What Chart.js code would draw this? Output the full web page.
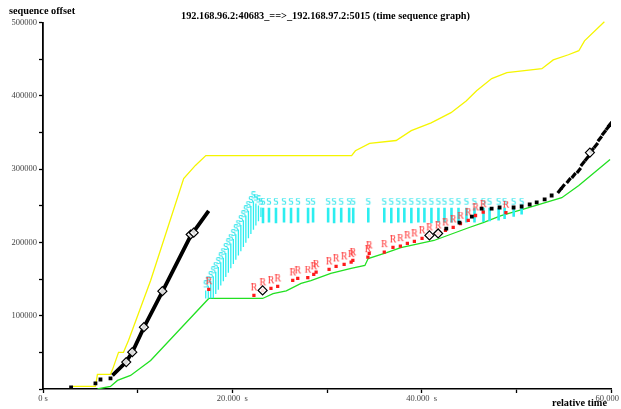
<!DOCTYPE html>
<html><head><meta charset="utf-8">
<script src="https://cdn.jsdelivr.net/npm/chart.js@4"></script>
<style>html,body{margin:0;padding:0;background:#fff;overflow:hidden}#wrap{position:relative;width:621px;height:409px}</style>
</head><body><div id="wrap"><canvas id="c" width="621" height="409"></canvas></div>
<script>
// ---- data (time in s, sequence offset in bytes) ----
const winT   = [3.1, 5.54, 5.75, 7.13, 7.35, 7.98, 8.5, 9.04, 11.37, 14.86, 16.1, 17.2, 32.6, 33.0, 34.5, 37.3, 38.9, 41.0, 43.1, 44.7, 45.8, 47.4, 49.0, 52.7, 53.9, 55.5, 56.6, 57.2, 59.3];
const winSeq = [3500, 3500, 20000, 20000, 26800, 50000, 50000, 66500, 148000, 287000, 305000, 318400, 318400, 325000, 335000, 339000, 352500, 363000, 377000, 393000, 407000, 423500, 431600, 437000, 449000, 456000, 461500, 475000, 501000];

const ackT   = [5.75, 7.13, 7.87, 9.25, 11.37, 17.51, 23.2, 24.3, 25.7, 27.26, 28.3, 30.4, 32.55, 34.0, 34.35, 36.3, 37.8, 41.3, 44.95, 46.5, 48.4, 51.3, 54.8, 56.6, 59.9];
const ackSeq = [0, 3500, 11700, 18500, 39000, 123500, 123500, 130000, 134000, 144000, 148000, 157600, 164500, 168500, 178000, 186000, 193000, 202600, 220000, 227000, 236500, 247500, 261000, 277500, 313000];

// sent segments (sparse start and slow phase)
const segT   = [2.97, 5.54, 6.07, 7.13, 42.6, 44.0, 45.3, 46.33, 47.39, 48.23, 49.71, 50.56, 51.41, 52.15, 52.99, 53.73];
const segSeq = [2200, 7600, 13000, 14500, 218800, 227000, 235100, 246000, 246000, 247600, 247600, 249000, 251700, 254500, 258600, 264000];
// sent segments (steep final phase)
const steepT   = [54.58, 54.90, 55.53, 56.06, 56.60, 57.02, 57.44, 57.97, 58.40, 58.82, 59.25, 59.67, 59.88];
const steepSeq = [270800, 276000, 284400, 291300, 298100, 307600, 314400, 325300, 332100, 341500, 349700, 356700, 360800];

const burstT   = [7.34, 8.72, 9.43, 10.66, 12.61, 15.6, 17.5];
const burstSeq = [18500, 36000, 50000, 84000, 133000, 209000, 243000];

// SACK blocks during recovery ramp
const sackDiagT  = [17.19, 17.46, 17.72, 17.99, 18.25, 18.52, 18.78, 19.05, 19.31, 19.58, 19.84, 20.11, 20.37, 20.64, 20.90, 21.17, 21.43, 21.70, 21.96, 22.23, 22.49, 22.76, 23.02];
const sackDiagLo = [123500, 123500, 123500, 123700, 129600, 135400, 141100, 147000, 152900, 158700, 164600, 170500, 176300, 182100, 187900, 193800, 199600, 205500, 211400, 217200, 223100, 228800, 234700];
const sackDiagHi = [134500, 140900, 147300, 153700, 160000, 166400, 172800, 179200, 185600, 192000, 198400, 204800, 211100, 217500, 223900, 230300, 236700, 243100, 249600, 256000, 253000, 250400, 247600];
// SACK blocks afterwards
const sackT  = [23.24, 23.87, 24.61, 25.46, 26.20, 26.94, 28.00, 28.53, 30.12, 30.75, 31.50, 32.34, 32.77, 34.36, 36.05, 36.79, 37.53, 38.17, 38.91, 39.65, 40.29, 41.03, 41.77, 42.41, 43.15, 43.89, 44.73, 45.58, 46.53, 47.17, 48.13, 48.76, 49.72, 50.56];
const sackLo = [226000, 227000, 226000, 227000, 226000, 227000, 226000, 227000, 227000, 226000, 227000, 227000, 226000, 227000, 227000, 226000, 227000, 227000, 226000, 227000, 227000, 226000, 227000, 227000, 227000, 226000, 227000, 227000, 228000, 229000, 230000, 232000, 235000, 238000];
const sackHi = [247400, 247400, 247400, 247400, 247400, 247400, 247400, 247400, 247400, 247400, 247400, 247400, 247400, 247400, 247400, 247400, 247400, 247400, 247400, 247400, 247400, 247400, 247400, 247400, 247400, 247400, 247400, 247400, 247400, 247400, 247400, 247400, 247400, 247400];

const rexmitT   = [17.51, 22.28, 23.20, 24.08, 24.79, 26.38, 26.91, 27.97, 28.60, 28.85, 30.22, 30.96, 31.81, 32.55, 32.73, 34.32, 34.46, 36.05, 36.97, 37.75, 38.49, 39.23, 40.04, 40.82, 41.74, 42.51, 43.33, 44.10, 44.92, 45.69, 46.50, 48.9];
const rexmitSeq = [136000, 127600, 134500, 137200, 139900, 148100, 150800, 151800, 156300, 159400, 163100, 167200, 169900, 173100, 175400, 179900, 184900, 186700, 193100, 194900, 198600, 201300, 205400, 209500, 212200, 216300, 220400, 225500, 229900, 236700, 241200, 240500];

const diamondT   = [8.79, 9.43, 10.66, 12.61, 15.6, 15.92, 23.2, 40.82, 41.74, 57.77];
const diamondSeq = [36700, 50300, 84400, 133500, 210800, 213300, 134500, 209500, 212200, 322500];

const xTickLabels = {0: '0 s', 20: '20.000  s', 40: '40.000  s', 60: '60.000  s'};
const yTickLabels = {100000: '100000', 200000: '200000', 300000: '300000', 400000: '400000', 500000: '500000'};

// ---- helpers ----
const pts = (xs, ys) => xs.map((x, i) => ({x: x, y: ys[i]}));
function vLines(ts, lo, hi) {
  const out = [];
  ts.forEach((t, i) => { out.push({x: t, y: lo[i]}, {x: t, y: hi[i]}, {x: t, y: null}); });
  return out;
}

function labelCanvas(ch, color, font, w, h, base) {
  const c = document.createElement('canvas');
  c.width = w; c.height = h;
  const g = c.getContext('2d');
  g.fillStyle = color; g.font = font; g.textAlign = 'center'; g.textBaseline = 'alphabetic';
  g.fillText(ch, w / 2, base);
  return c;
}
const sImg = labelCanvas('S', '#1fe3ea', '8.5px "DejaVu Sans"', 10, 20, 7);
const rImg = labelCanvas('R', '#ff3a3a', '10px "Liberation Serif"', 12, 24, 7);

const textPlugin = {
  id: 'texts',
  afterDraw(chart) {
    const ctx = chart.ctx;
    ctx.save();
    ctx.fillStyle = '#000';
    ctx.font = 'bold 10.3px "Liberation Serif"';
    ctx.textBaseline = 'alphabetic';
    ctx.textAlign = 'left';
    ctx.fillText('sequence offset', 9, 14);
    ctx.textAlign = 'center';
    ctx.fillText('192.168.96.2:40683_==>_192.168.97.2:5015 (time sequence graph)', 325.5, 19);
    ctx.textAlign = 'right';
    ctx.fillText('relative time', 607, 406);
    ctx.restore();
  }
};

const tickFont = {family: '"Liberation Serif"', size: 8.5};
const sackColor = '#2ceef0';

new Chart(document.getElementById('c'), {
  type: 'scatter',
  data: {
    datasets: [
      {label: 'diamonds', data: pts(diamondT, diamondSeq), pointStyle: 'rectRot', pointRadius: 4.5,
       borderColor: '#000', backgroundColor: 'rgba(255,255,255,0.85)', borderWidth: 1.2, showLine: false},
      {label: 'segments', data: pts(segT, segSeq), pointStyle: 'rect', pointRadius: 2.7,
       borderColor: '#000', backgroundColor: '#000', borderWidth: 0, showLine: false},
      {label: 'steep', data: pts(steepT, steepSeq), pointStyle: 'line', pointRadius: 3.2, rotation: -52,
       borderColor: '#000', borderWidth: 3.2, showLine: false},
      {label: 'burst', data: pts(burstT, burstSeq), showLine: true, borderColor: '#000', borderWidth: 3.8,
       pointRadius: 0, borderCapStyle: 'butt'},
      {label: 'R', data: pts(rexmitT, rexmitSeq), pointStyle: rImg, pointRadius: 3, showLine: false},
      {label: 'rexmit', data: pts(rexmitT, rexmitSeq), pointStyle: 'rect', pointRadius: 2.3,
       borderColor: '#ff1a1a', backgroundColor: '#ff1a1a', borderWidth: 0, showLine: false},
      {label: 'S', data: pts(sackDiagT.concat(sackT), sackDiagHi.concat(sackHi)), pointStyle: sImg, pointRadius: 3, showLine: false},
      {label: 'sackDiag', data: vLines(sackDiagT, sackDiagLo, sackDiagHi), showLine: true, spanGaps: false, borderColor: sackColor,
       borderWidth: 1.3, pointRadius: 0, borderCapStyle: 'butt'},
      {label: 'sack', data: vLines(sackT, sackLo, sackHi), showLine: true, spanGaps: false, borderColor: sackColor,
       borderWidth: 2.6, pointRadius: 0, borderCapStyle: 'butt'},
      {label: 'ack', data: pts(ackT, ackSeq), showLine: true, borderColor: '#22e022', borderWidth: 1.3, pointRadius: 0},
      {label: 'window', data: pts(winT, winSeq), showLine: true, borderColor: '#f5f500', borderWidth: 1.3, pointRadius: 0, clip: false}
    ]
  },
  options: {
    responsive: false, animation: false, devicePixelRatio: 1, events: [],
    layout: {padding: {top: 22.5, left: 0, right: 10, bottom: 0}},
    plugins: {legend: {display: false}, tooltip: {enabled: false}, title: {display: false}},
    scales: {
      x: {
        type: 'linear', min: 0, max: 60,
        afterFit: s => { s.height = 20; s.paddingLeft = 0; s.paddingRight = 0; },
        ticks: {stepSize: 10, autoSkip: false, maxRotation: 0, padding: 1, color: '#444', font: tickFont,
                callback: v => (xTickLabels[v] !== undefined ? xTickLabels[v] : '')},
        grid: {drawOnChartArea: false, drawTicks: true, tickLength: 4, tickColor: '#000', tickWidth: 1.3},
        border: {color: '#000', width: 1.6}
      },
      y: {
        type: 'linear', min: 0, max: 500000,
        afterFit: s => { s.width = 43; s.paddingTop = 0; s.paddingBottom = 0; },
        ticks: {stepSize: 50000, autoSkip: false, padding: 2, color: '#444', font: tickFont,
                callback: v => (yTickLabels[v] !== undefined ? yTickLabels[v] : '')},
        grid: {drawOnChartArea: false, drawTicks: true, tickLength: 4, tickColor: '#000', tickWidth: 1.3},
        border: {color: '#000', width: 1.8}
      }
    }
  },
  plugins: [textPlugin]
});
</script></body></html>
